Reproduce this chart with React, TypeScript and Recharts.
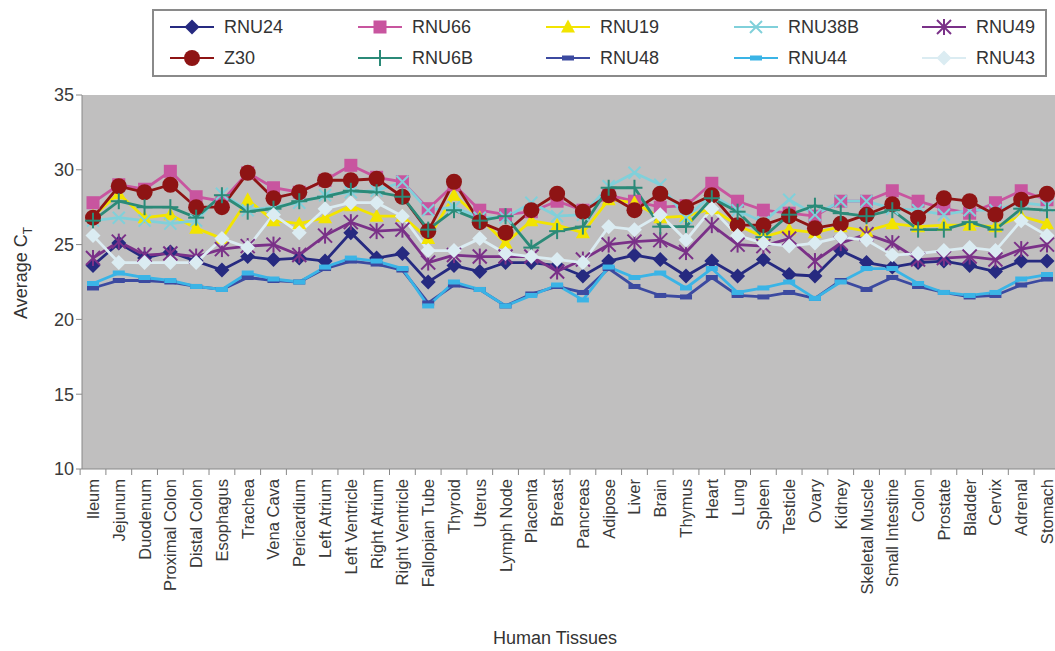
import React from "react"
import { LineChart, Line, XAxis, YAxis, Legend } from "recharts"

const tissues = [
  "Ileum", "Jejunum", "Duodenum", "Proximal Colon", "Distal Colon", "Esophagus", "Trachea",
  "Vena Cava", "Pericardium", "Left Atrium", "Left Ventricle", "Right Atrium", "Right Ventricle",
  "Fallopian Tube", "Thyroid", "Uterus", "Lymph Node", "Placenta", "Breast", "Pancreas",
  "Adipose", "Liver", "Brain", "Thymus", "Heart", "Lung", "Spleen", "Testicle", "Ovary",
  "Kidney", "Skeletal Muscle", "Small Intestine", "Colon", "Prostate", "Bladder", "Cervix",
  "Adrenal", "Stomach",
]

const rnu24 = [23.6, 25.1, 24.1, 24.5, 23.9, 23.3, 24.2, 24.0, 24.1, 23.9, 25.8, 24.1, 24.4, 22.5, 23.6, 23.2, 23.8, 23.8, 23.6, 22.9, 23.9, 24.3, 24.0, 22.9, 23.9, 22.9, 24.0, 23.0, 22.9, 24.6, 23.8, 23.5, 23.8, 23.9, 23.6, 23.2, 23.9, 23.9]
const rnu66 = [27.8, 29.0, 28.7, 29.9, 28.2, 27.9, 29.8, 28.8, 28.5, 29.3, 30.3, 29.5, 29.2, 27.4, 29.0, 27.3, 27.0, 27.2, 27.9, 27.3, 28.3, 27.9, 27.5, 27.6, 29.1, 27.9, 27.3, 27.1, 26.9, 27.9, 27.9, 28.6, 27.9, 27.4, 27.1, 27.8, 28.6, 28.0]
const rnu19 = [26.9, 28.4, 26.8, 27.0, 26.1, 25.4, 28.0, 26.6, 26.4, 26.8, 27.6, 26.9, 26.9, 25.4, 28.3, 26.8, 25.1, 26.6, 26.3, 25.8, 28.0, 27.8, 26.8, 26.9, 27.4, 26.3, 25.5, 26.0, 25.8, 26.2, 25.9, 26.4, 26.2, 26.3, 26.3, 26.2, 26.9, 26.4]
const rnu38b = [26.6, 26.8, 26.6, 26.4, 26.6, 28.4, 27.3, 27.5, 27.8, 28.3, 28.5, 28.6, 29.2, 27.3, 27.5, 26.8, 26.8, 27.8, 26.9, 27.0, 28.9, 29.8, 29.0, 26.8, 28.3, 27.3, 26.5, 28.0, 27.0, 27.9, 27.9, 27.4, 27.3, 27.0, 27.3, 27.3, 27.8, 27.6]
const rnu49 = [24.1, 25.2, 24.3, 24.4, 24.2, 24.7, 24.9, 25.0, 24.3, 25.6, 26.5, 25.9, 26.0, 23.8, 24.3, 24.2, 24.2, 24.2, 23.2, 24.0, 25.0, 25.2, 25.3, 24.5, 26.3, 25.0, 24.9, 25.4, 23.9, 25.1, 25.7, 25.1, 24.0, 24.1, 24.2, 24.0, 24.7, 25.0]
const z30 = [26.8, 28.9, 28.5, 29.0, 27.5, 27.5, 29.8, 28.1, 28.5, 29.3, 29.3, 29.4, 28.2, 25.9, 29.2, 26.5, 25.8, 27.3, 28.4, 27.2, 28.3, 27.3, 28.4, 27.5, 28.3, 26.3, 26.3, 26.9, 26.1, 26.4, 27.0, 27.7, 26.8, 28.1, 27.9, 27.0, 28.0, 28.4]
const rnu6b = [26.6, 27.9, 27.5, 27.5, 26.8, 28.3, 27.2, 27.4, 27.9, 28.2, 28.6, 28.5, 28.2, 26.0, 27.3, 26.6, 26.9, 24.8, 25.9, 26.2, 28.8, 28.8, 26.2, 26.2, 28.1, 27.2, 25.5, 27.0, 27.6, 27.1, 26.9, 27.3, 26.0, 26.0, 26.5, 26.0, 27.4, 27.3]
const rnu48 = [22.1, 22.6, 22.6, 22.5, 22.2, 22.0, 22.8, 22.6, 22.5, 23.4, 23.9, 23.7, 23.3, 21.1, 22.3, 22.0, 20.9, 21.7, 22.2, 21.8, 23.4, 22.2, 21.6, 21.5, 22.8, 21.6, 21.5, 21.8, 21.4, 22.6, 22.0, 22.8, 22.2, 21.8, 21.5, 21.6, 22.3, 22.7]
const rnu44 = [22.4, 23.1, 22.8, 22.6, 22.2, 22.0, 23.1, 22.7, 22.5, 23.5, 24.1, 23.9, 23.4, 20.9, 22.5, 22.0, 20.9, 21.6, 22.3, 21.3, 23.5, 22.8, 23.1, 22.1, 23.4, 21.8, 22.1, 22.5, 21.4, 22.5, 23.4, 23.4, 22.4, 21.8, 21.6, 21.8, 22.7, 23.0]
const rnu43 = [25.6, 23.8, 23.8, 23.8, 23.8, 25.4, 24.8, 27.0, 25.8, 27.4, 27.8, 27.8, 26.9, 24.6, 24.6, 25.4, 24.4, 24.2, 24.0, 23.8, 26.2, 26.0, 27.0, 25.3, 27.4, 25.6, 25.1, 24.9, 25.1, 25.5, 25.3, 24.3, 24.4, 24.6, 24.8, 24.6, 26.6, 25.6]

const yTicks = [10, 15, 20, 25, 30, 35]

// legend order (row by row), also drawing order
const series = [
  { key: "RNU24", values: rnu24, color: "#262a80", shape: "diamond" },
  { key: "RNU66", values: rnu66, color: "#c8559f", shape: "square" },
  { key: "RNU19", values: rnu19, color: "#f2e400", shape: "triangle" },
  { key: "RNU38B", values: rnu38b, color: "#80d0da", shape: "cross" },
  { key: "RNU49", values: rnu49, color: "#7a3188", shape: "star" },
  { key: "Z30", values: z30, color: "#8e1414", shape: "circle" },
  { key: "RNU6B", values: rnu6b, color: "#2b8a78", shape: "plus" },
  { key: "RNU48", values: rnu48, color: "#3c4aa0", shape: "dash" },
  { key: "RNU44", values: rnu44, color: "#3ab4e6", shape: "dash" },
  { key: "RNU43", values: rnu43, color: "#dbecf2", shape: "diamond" },
]

const data = tissues.map((t, i) => {
  const row: Record<string, string | number> = { tissue: t }
  series.forEach((s) => (row[s.key] = s.values[i]))
  return row
})

const FONT = "'Liberation Sans', Arial, sans-serif"
const BAND = 25.78

function Marker({ shape, color, cx, cy }: { shape: string; color: string; cx: number; cy: number }) {
  switch (shape) {
    case "diamond":
      return <polygon points={`${cx},${cy - 7.5} ${cx + 7.5},${cy} ${cx},${cy + 7.5} ${cx - 7.5},${cy}`} fill={color} />
    case "square":
      return <rect x={cx - 6.5} y={cy - 6.5} width={13} height={13} fill={color} />
    case "triangle":
      return <polygon points={`${cx},${cy - 7.5} ${cx + 7},${cy + 5.5} ${cx - 7},${cy + 5.5}`} fill={color} />
    case "circle":
      return <circle cx={cx} cy={cy} r={8} fill={color} />
    case "cross":
      return (
        <g stroke={color} strokeWidth={2}>
          <line x1={cx - 6} y1={cy - 6} x2={cx + 6} y2={cy + 6} />
          <line x1={cx - 6} y1={cy + 6} x2={cx + 6} y2={cy - 6} />
        </g>
      )
    case "plus":
      return (
        <g stroke={color} strokeWidth={2}>
          <line x1={cx} y1={cy - 8} x2={cx} y2={cy + 8} />
          <line x1={cx - 8} y1={cy} x2={cx + 8} y2={cy} />
        </g>
      )
    case "star":
      return (
        <g stroke={color} strokeWidth={2}>
          <line x1={cx} y1={cy - 8} x2={cx} y2={cy + 8} />
          <line x1={cx - 7} y1={cy - 7} x2={cx + 7} y2={cy + 7} />
          <line x1={cx - 7} y1={cy + 7} x2={cx + 7} y2={cy - 7} />
        </g>
      )
    case "dash":
      return <rect x={cx - 6} y={cy - 2.5} width={12} height={5} fill={color} />
    default:
      return null
  }
}

function makeDot(shape: string, color: string) {
  return (props: any) => {
    const { cx, cy, index } = props
    if (cx == null || cy == null) return <g key={index} />
    return <Marker key={index} shape={shape} color={color} cx={cx} cy={cy} />
  }
}

function TissueTick(props: any) {
  const { x, y, payload } = props
  return (
    <g>
      <line x1={x - BAND / 2} y1={y - 8} x2={x - BAND / 2} y2={y - 2} stroke="#888" />
      <text
        transform={`translate(${x + 6},${y + 2}) rotate(-90)`}
        textAnchor="end"
        fontSize={16.5}
        fill="#3a3a3a"
        fontFamily={FONT}
      >
        {payload.value}
      </text>
    </g>
  )
}

function LegendBox() {
  return (
    <div
      style={{
        width: 891,
        height: 64,
        border: "2px solid #8a8a8a",
        background: "#fff",
        fontFamily: FONT,
        fontSize: 18,
        color: "#333",
        position: "relative",
      }}
    >
      {series.map((s, i) => {
        const col = i % 5
        const row = Math.floor(i / 5)
        return (
          <div
            key={s.key}
            style={{ position: "absolute", left: 14 + col * 188, top: 3 + row * 31, display: "flex", alignItems: "center", height: 26 }}
          >
            <svg width={48} height={20}>
              <line x1={2} y1={10} x2={46} y2={10} stroke={s.color} strokeWidth={2} />
              <Marker shape={s.shape} color={s.color} cx={24} cy={10} />
            </svg>
            <span style={{ marginLeft: 8 }}>{s.key}</span>
          </div>
        )
      })}
    </div>
  )
}

function YLabel() {
  return (
    <text transform="translate(27,273) rotate(-90)" textAnchor="middle" fontSize={18} fill="#333" fontFamily={FONT}>
      Average C
      <tspan fontSize={12} dy={5}>T</tspan>
    </text>
  )
}

function XLabel() {
  return (
    <text x={555} y={644} textAnchor="middle" fontSize={18} fill="#333" fontFamily={FONT}>
      Human Tissues
    </text>
  )
}

export default function App() {
  return (
    <div style={{ position: "fixed", left: 0, top: 0, width: 1055, height: 651, overflow: "hidden", background: "#fff" }}>
      <LineChart width={1058} height={651} data={data} margin={{ top: 95, right: 0, bottom: 42, left: 0 }}>
        <rect x={82} y={95} width={976} height={374} fill="#c0bfbf" />
        <XAxis
          dataKey="tissue"
          interval={0}
          height={140}
          padding={{ left: 11, right: 11 }}
          tick={<TissueTick />}
          tickLine={false}
          axisLine={{ stroke: "#888" }}
          label={<XLabel />}
        />
        <YAxis
          domain={[10, 35]}
          ticks={yTicks}
          width={82}
          tick={{ fontSize: 18, fill: "#3a3a3a", fontFamily: FONT }}
          tickLine={{ stroke: "#888" }}
          tickSize={6}
          axisLine={{ stroke: "#888" }}
          label={<YLabel />}
        />
        <Legend verticalAlign="middle" align="center" content={<LegendBox />} wrapperStyle={{ top: 9, left: 152, width: 895 }} />
        {series.map((s) => (
          <Line
            key={s.key}
            dataKey={s.key}
            stroke={s.color}
            strokeWidth={2.8}
            dot={makeDot(s.shape, s.color)}
            activeDot={false}
            isAnimationActive={false}
          />
        ))}
      </LineChart>
    </div>
  )
}
